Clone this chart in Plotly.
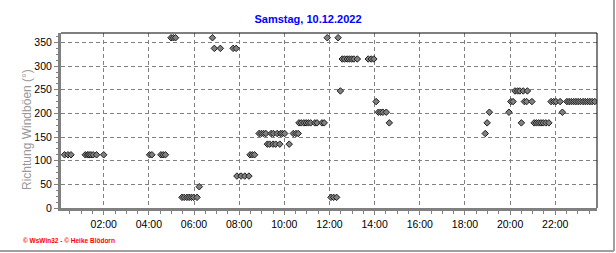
import plotly.graph_objects as go

day = "2022-12-10"
times = [
    "00:16", "00:25", "00:33",
    "01:11", "01:17", "01:21", "01:26", "01:32", "01:41", "02:00",
    "04:02", "04:08", "04:32", "04:38", "04:44",
    "04:59", "05:05", "05:11",
    "05:28", "05:34", "05:41", "05:47", "05:53", "05:59", "06:08",
    "06:14", "06:49",
    "06:54", "07:10", "07:44", "07:52",
    "07:54", "08:05", "08:15", "08:26",
    "08:29", "08:35", "08:41",
    "08:53", "08:59", "09:05", "09:11",
    "09:15", "09:21",
    "09:25", "09:31",
    "09:30", "09:37", "09:48", "10:13",
    "09:41", "09:50", "09:55", "10:01", "10:24", "10:31", "10:37",
    "10:39", "10:45", "10:52", "10:58", "11:04", "11:10", "11:21", "11:27", "11:40", "11:46",
    "11:54",
    "12:04", "12:11", "12:19",
    "12:23", "12:29",
    "12:34", "12:40", "12:47", "12:53", "12:59", "13:05", "13:14", "13:43", "13:51", "13:58",
    "14:04",
    "14:10", "14:16", "14:22", "14:31",
    "14:39",
    "18:54", "18:59", "19:05", "19:57",
    "20:02", "20:08",
    "20:13", "20:20", "20:26", "20:30", "20:35", "20:38", "20:44", "20:46", "20:58",
    "21:04", "21:10", "21:16", "21:22", "21:28", "21:35", "21:43",
    "21:49", "21:56", "22:02", "22:13",
    "22:19",
    "22:31", "22:37", "22:43", "22:49", "22:55", "23:01", "23:07", "23:14", "23:20", "23:26", "23:32", "23:38", "23:45",
]
directions = [
    112.5, 112.5, 112.5,
    112.5, 112.5, 112.5, 112.5, 112.5, 112.5, 112.5,
    112.5, 112.5, 112.5, 112.5, 112.5,
    360, 360, 360,
    22.5, 22.5, 22.5, 22.5, 22.5, 22.5, 22.5,
    45, 360,
    337.5, 337.5, 337.5, 337.5,
    67.5, 67.5, 67.5, 67.5,
    112.5, 112.5, 112.5,
    157.5, 157.5, 157.5, 157.5,
    135, 135,
    157.5, 157.5,
    135, 135, 135, 135,
    157.5, 157.5, 157.5, 157.5, 157.5, 157.5, 157.5,
    180, 180, 180, 180, 180, 180, 180, 180, 180, 180,
    360,
    22.5, 22.5, 22.5,
    360, 247.5,
    315, 315, 315, 315, 315, 315, 315, 315, 315, 315,
    225,
    202.5, 202.5, 202.5, 202.5,
    180,
    157.5, 180, 202.5, 202.5,
    225, 225,
    247.5, 247.5, 247.5, 180, 247.5, 225, 225, 247.5, 225,
    180, 180, 180, 180, 180, 180, 180,
    225, 225, 225, 225,
    202.5,
    225, 225, 225, 225, 225, 225, 225, 225, 225, 225, 225, 225, 225,
]
x_tick_hours = ["02:00", "04:00", "06:00", "08:00", "10:00", "12:00",
                "14:00", "16:00", "18:00", "20:00", "22:00"]
title_text = "Samstag, 10.12.2022"
y_title = "Richtung Windböen (°)"
footer = "© WsWin32 - © Heike Blödorn"

xs = [f"{day} {t}" for t in times]

fig = go.Figure()
fig.add_trace(go.Scatter(
    x=xs, y=directions, mode="markers",
    marker=dict(symbol="diamond", size=5, color="#808080",
                line=dict(color="#202020", width=1)),
    hoverinfo="x+y", showlegend=False,
))

grid = dict(showgrid=True, gridcolor="#808080", gridwidth=1, griddash="4px,3px",
            zeroline=False, showline=True, linecolor="#808080", linewidth=3,
            ticks="outside", ticklen=4, tickcolor="#808080", tickwidth=1,
            tickfont=dict(family="Liberation Sans, Arial, sans-serif", size=10.5, color="#000000"))

fig.update_layout(
    width=616, height=253,
    margin=dict(l=61, r=19, t=33, b=45, pad=0),
    paper_bgcolor="white", plot_bgcolor="white",
    title=dict(text=f"<b>{title_text}</b>", x=0.5, xref="container", xanchor="center",
               y=1 - 19 / 253, yref="container", yanchor="middle",
               font=dict(family="Liberation Sans, Arial, sans-serif", size=11, color="#0000ff")),
    xaxis=dict(type="date",
               range=[f"{day} 00:06:30", f"{day} 23:51"],
               tickmode="array",
               tickvals=[f"{day} {t}" for t in x_tick_hours],
               ticktext=x_tick_hours,
               minor=dict(dtick=1800000, tick0=f"{day} 00:00", ticks="outside", ticklen=3,
                          tickcolor="#808080", showgrid=False),
               **grid),
    yaxis=dict(range=[0, 370], tickmode="linear", tick0=0, dtick=50,
               minor=dict(dtick=12.5, ticks="outside", ticklen=2, tickcolor="#808080",
                          showgrid=False),
               **grid),
    shapes=[
        dict(type="line", xref="paper", yref="paper", x0=0, x1=1, y0=1, y1=1,
             line=dict(color="#000000", width=1)),
        dict(type="line", xref="paper", yref="paper", x0=1, x1=1, y0=0, y1=1,
             line=dict(color="#000000", width=1)),
        dict(type="line", xref="paper", yref="paper",
             x0=(614 - 61) / 536, x1=(614 - 61) / 536, y0=(208 - 0) / 175, y1=(208 - 251) / 175,
             line=dict(color="#a0a0a0", width=2)),
        dict(type="line", xref="paper", yref="paper",
             x0=-61 / 536, x1=(614 - 61) / 536, y0=(208 - 251) / 175, y1=(208 - 251) / 175,
             line=dict(color="#a0a0a0", width=2)),
    ],
    annotations=[
        dict(text=y_title, textangle=-90, xref="paper", yref="paper",
             x=(27 - 61) / 536, y=(208 - 130) / 175, xanchor="center", yanchor="middle",
             showarrow=False,
             font=dict(family="Liberation Sans, Arial, sans-serif", size=12, color="#999999")),
        dict(text=f"<b>{footer}</b>", xref="paper", yref="paper",
             x=(21 - 61) / 536, y=(208 - 240) / 175, xanchor="left", yanchor="middle",
             showarrow=False,
             font=dict(family="Liberation Sans, Arial, sans-serif", size=6.5, color="#ff0000")),
    ],
)

fig.write_html("out.html")
